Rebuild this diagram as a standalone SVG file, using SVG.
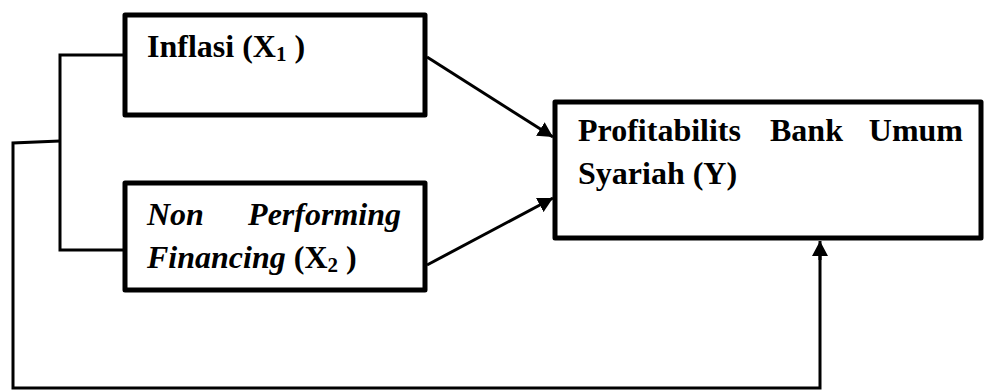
<svg xmlns="http://www.w3.org/2000/svg" width="985" height="390" viewBox="0 0 985 390">
<style>
.box{fill:#fff;stroke:#000;stroke-width:5;stroke-linejoin:round}
.ln{fill:none;stroke:#000;stroke-width:3}
.t{font-family:"Liberation Serif","Times New Roman",serif;font-weight:bold;font-size:32px;fill:#000}
.i{font-style:italic}
.sub{font-size:21px}
</style>
<defs>
<marker id="ah" markerWidth="16" markerHeight="16" refX="15" refY="8" orient="auto" markerUnits="userSpaceOnUse">
<path d="M0,0 L15,8 L0,16 Z" fill="#000"/>
</marker>
</defs>
<g id="connectors">
<polyline class="ln" points="125,55 60,55 60,250 125,250"/>
<polyline class="ln" points="60,141 13,143 13,388 820,388 820,253"/>
<line class="ln" x1="820" y1="260" x2="820" y2="241" marker-end="url(#ah)"/>
<line class="ln" x1="427" y1="57" x2="553" y2="137" marker-end="url(#ah)"/>
<line class="ln" x1="427" y1="265" x2="553" y2="198" marker-end="url(#ah)"/>
</g>
<g id="inflasi">
<rect class="box" x="125" y="15" width="300" height="100"/>
<text class="t" x="147" y="57">Inflasi (X<tspan class="sub" dy="4">1</tspan><tspan dy="-4"> )</tspan></text>
</g>
<g id="npf">
<rect class="box" x="125" y="183" width="300" height="107"/>
<text class="t i" x="147" y="225">Non</text>
<text class="t i" x="401" y="225" text-anchor="end">Performing</text>
<text class="t" x="147" y="268"><tspan class="i">Financing</tspan> (X<tspan class="sub" dy="4">2</tspan><tspan dy="-4"> )</tspan></text>
</g>
<g id="profit">
<rect class="box" x="555" y="102" width="426" height="136"/>
<text class="t" x="578" y="141">Profitabilits</text>
<text class="t" x="770" y="141">Bank</text>
<text class="t" x="963" y="141" text-anchor="end">Umum</text>
<text class="t" x="578" y="184">Syariah (Y)</text>
</g>
</svg>
